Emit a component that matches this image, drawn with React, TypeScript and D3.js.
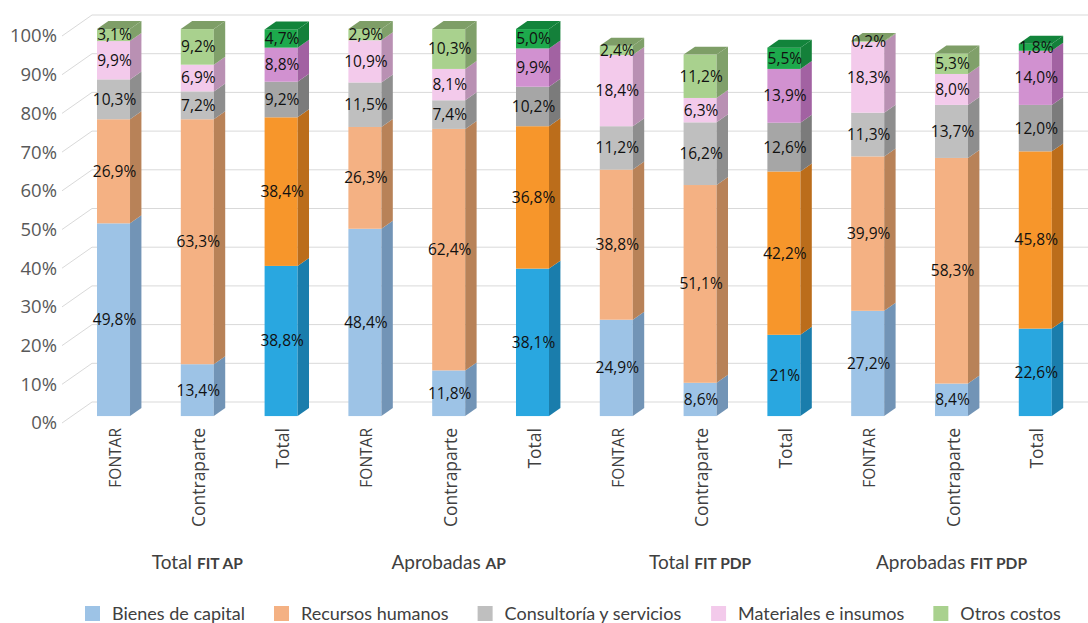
import React, { useMemo } from "react";
import * as d3 from "d3";

// Groups of bars along the x axis and the three bars in each group
const groupLeads = ["Total", "Aprobadas", "Total", "Aprobadas"];
const groupTags = ["FIT AP", "AP", "FIT PDP", "FIT PDP"];
const barKinds = ["FONTAR", "Contraparte", "Total"];

// Cost categories (stack order, bottom to top)
const seriesNames = [
  "Bienes de capital",
  "Recursos humanos",
  "Consultoría y servicios",
  "Materiales e insumos",
  "Otros costos",
];

// Share of each category per bar (%), bars in group order
const bienesDeCapital = [49.8, 13.4, 38.8, 48.4, 11.8, 38.1, 24.9, 8.6, 21, 27.2, 8.4, 22.6];
const recursosHumanos = [26.9, 63.3, 38.4, 26.3, 62.4, 36.8, 38.8, 51.1, 42.2, 39.9, 58.3, 45.8];
const consultoria = [10.3, 7.2, 9.2, 11.5, 7.4, 10.2, 11.2, 16.2, 12.6, 11.3, 13.7, 12.0];
const materiales = [9.9, 6.9, 8.8, 10.9, 8.1, 9.9, 18.4, 6.3, 13.9, 18.3, 8.0, 14.0];
const otrosCostos = [3.1, 9.2, 4.7, 2.9, 10.3, 5.0, 2.4, 11.2, 5.5, 0.2, 5.3, 1.8];

// Labels printed without decimals (bar index, series index)
const wholeLabels = [[8, 0]];

const yTicks = [0, 10, 20, 30, 40, 50, 60, 70, 80, 90, 100];

const W = 1088;
const H = 623;

// Oblique projection of the chart depth
const DEPTH_DX = 30;
const DEPTH_DY = -21;
const FRONT = 0.33;
const BACK = 0.71;

// front / side / top shades for the light bars and the Total bars
const lightPalette = [
  { front: "#9DC3E6", side: "#7294B6", top: "#86A9CC" },
  { front: "#F4B183", side: "#B88258", top: "#D2996C" },
  { front: "#BFBFBF", side: "#8E8E8E", top: "#A3A3A3" },
  { front: "#F3CAEB", side: "#B990B3", top: "#D4ADCE" },
  { front: "#A9D18E", side: "#80A06A", top: "#7E9E67" },
];
const strongPalette = [
  { front: "#29A7E0", side: "#1A7DAC", top: "#1F8FC4" },
  { front: "#F7962B", side: "#BB6D1B", top: "#D67F20" },
  { front: "#A6A6A6", side: "#7B7B7B", top: "#8F8F8F" },
  { front: "#D191D0", side: "#A262A2", top: "#B574B5" },
  { front: "#1DA94C", side: "#14803A", top: "#12843B" },
];

const seriesValues = [bienesDeCapital, recursosHumanos, consultoria, materiales, otrosCostos];

const measureCtx =
  typeof document !== "undefined" ? document.createElement("canvas").getContext("2d") : null;
function textWidth(t: string, font: string) {
  if (!measureCtx) return t.length * 8;
  measureCtx.font = font;
  return measureCtx.measureText(t).width;
}

function fmt(v: number, bar: number, s: number) {
  const whole = wholeLabels.some(([b, k]) => b === bar && k === s);
  return (whole ? d3.format(".0f")(v) : d3.format(".1f")(v)).replace(".", ",") + "%";
}

export default function App() {
  const barIds = useMemo(() => d3.range(groupLeads.length * barKinds.length), []);

  const x = d3
    .scaleBand<number>()
    .domain(barIds)
    .range([97, 1051.8])
    .paddingInner(0.606)
    .paddingOuter(0);

  const y = d3.scaleLinear().domain([0, 100]).range([423, 36]);

  const stack = d3
    .stack<number, number>()
    .keys(d3.range(seriesNames.length))
    .value((bar, key) => seriesValues[key][bar]);
  const layers = stack(barIds);

  const ddx = (BACK - FRONT) * DEPTH_DX;
  const ddy = (BACK - FRONT) * DEPTH_DY;
  const fy = (v: number) => y(v) + FRONT * DEPTH_DY;
  const bw = x.bandwidth();

  const legendFont = "18px Lato";
  let lx = 85;
  const legendItems = seriesNames.map((name, i) => {
    const item = { name, i, x: lx };
    lx += 15 + 12 + textWidth(name, legendFont) + 29;
    return item;
  });

  return (
    <svg
      width={W}
      height={H}
      viewBox={`0 0 ${W} ${H}`}
      style={{ position: "absolute", left: 0, top: 0, background: "#fff" }}
    >
      {/* back wall gridlines and left wall diagonals */}
      <g stroke="#D9D9D9" strokeWidth={1} fill="none">
        {yTicks.map((t) => (
          <g key={t}>
            <line x1={62} y1={y(t)} x2={62 + DEPTH_DX} y2={y(t) + DEPTH_DY} />
            <line x1={62 + DEPTH_DX} y1={y(t) + DEPTH_DY} x2={W} y2={y(t) + DEPTH_DY} />
          </g>
        ))}
      </g>

      {/* y axis tick labels */}
      <g fontFamily="'Open Sans', sans-serif" fontSize={18.5} fill="#595959" textAnchor="end">
        {yTicks.map((t) => (
          <text key={t} x={57} y={y(t)} dy="0.35em">
            {t}%
          </text>
        ))}
      </g>

      {/* stacked 3D bars */}
      {barIds.map((bar) => {
        const kind = bar % barKinds.length;
        const pal = kind === 2 ? strongPalette : lightPalette;
        const xl = x(bar)!;
        const xr = xl + bw;
        const topLayer = layers.length - 1;
        const topVal = layers[topLayer][bar][1];
        return (
          <g key={bar}>
            {layers.map((layer, s) => {
              const [v0, v1] = layer[bar];
              if (v1 - v0 <= 0) return null;
              return (
                <g key={s}>
                  <rect x={xl} y={fy(v1)} width={bw} height={fy(v0) - fy(v1)} fill={pal[s].front} />
                  <polygon
                    points={[
                      [xr, fy(v0)],
                      [xr, fy(v1)],
                      [xr + ddx, fy(v1) + ddy],
                      [xr + ddx, fy(v0) + ddy],
                    ]
                      .map((p) => p.join(","))
                      .join(" ")}
                    fill={pal[s].side}
                  />
                </g>
              );
            })}
            <polygon
              points={[
                [xl, fy(topVal)],
                [xr, fy(topVal)],
                [xr + ddx, fy(topVal) + ddy],
                [xl + ddx, fy(topVal) + ddy],
              ]
                .map((p) => p.join(","))
                .join(" ")}
              fill={pal[topLayer].top}
            />
          </g>
        );
      })}

      {/* value labels */}
      <g fontFamily="'Open Sans', sans-serif" fontSize={15.5} fill="#111" textAnchor="middle">
        {barIds.map((bar) =>
          layers.map((layer, s) => {
            const [v0, v1] = layer[bar];
            const v = seriesValues[s][bar];
            return (
              <text key={`${bar}-${s}`} x={x(bar)! + bw / 2 + 1} y={fy((v0 + v1) / 2)} dy="0.35em">
                {fmt(v, bar, s)}
              </text>
            );
          })
        )}
      </g>

      {/* bar labels, rotated */}
      <g fill="#404040">
        {barIds.map((bar) => {
          const kind = bar % barKinds.length;
          const cx = x(bar)! + bw / 2 + 2;
          return (
            <text
              key={bar}
              transform={`translate(${cx},428) rotate(-90)`}
              textAnchor="end"
              dy="0.35em"
              fontFamily="'Open Sans', sans-serif"
              fontSize={kind === 0 ? 15.5 : 17.5}
            >
              {barKinds[kind]}
            </text>
          );
        })}
      </g>

      {/* group labels */}
      <g fill="#404040" fontFamily="Lato, sans-serif" textAnchor="middle">
        {groupLeads.map((lead, g) => {
          const mid = barIds[g * barKinds.length + 1];
          const cx = x(mid)! + bw / 2;
          return (
            <text key={g} x={cx} y={569} fontSize={19}>
              {lead}{" "}
              <tspan fontSize={15.5} fontWeight={700}>
                {groupTags[g]}
              </tspan>
            </text>
          );
        })}
      </g>

      {/* legend */}
      <g fontFamily="Lato, sans-serif" fontSize={18} fill="#404040">
        {legendItems.map((it) => (
          <g key={it.name}>
            <rect x={it.x} y={606} width={15} height={15} fill={lightPalette[it.i].front} />
            <text x={it.x + 27} y={619.5}>
              {it.name}
            </text>
          </g>
        ))}
      </g>
    </svg>
  );
}
